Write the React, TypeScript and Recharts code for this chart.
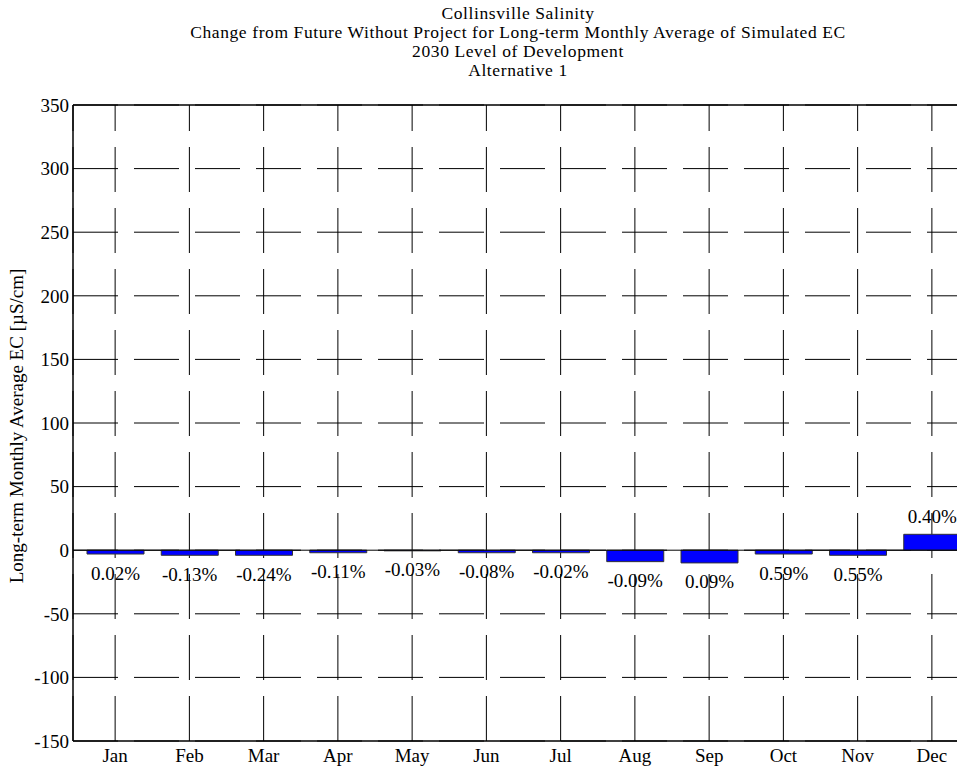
import { BarChart, Bar, XAxis, YAxis, CartesianGrid, ReferenceLine, LabelList } from "recharts";

const MONTHS = ["Jan", "Feb", "Mar", "Apr", "May", "Jun", "Jul", "Aug", "Sep", "Oct", "Nov", "Dec"];
const EC_CHANGE = [-3, -4, -4, -2, -0.5, -2, -2, -9, -10, -3, -4, 12.5];
const PCT_LABELS = ["0.02%", "-0.13%", "-0.24%", "-0.11%", "-0.03%", "-0.08%", "-0.02%", "-0.09%", "0.09%", "0.59%", "0.55%", "0.40%"];
const Y_TICKS = [-150, -100, -50, 0, 50, 100, 150, 200, 250, 300, 350];
const TITLE_LINES = [
  "Collinsville Salinity",
  "Change from Future Without Project for Long-term Monthly Average of Simulated EC",
  "2030 Level of Development",
  "Alternative 1",
];

const data = MONTHS.map((m, i) => ({ month: m, ec: EC_CHANGE[i], pct: PCT_LABELS[i] }));

const FONT = "'Liberation Serif', 'Times New Roman', serif";
const FS = 19;

function PctLabel(props: any) {
  const { x, y, width, height, value, index } = props;
  const top = Math.min(y, y + height);
  const bottom = Math.max(y, y + height);
  const neg = EC_CHANGE[index] < 0;
  const ty = neg ? bottom + 19 : top - 18;
  return (
    <text x={x + width / 2} y={ty} textAnchor="middle" dominantBaseline="central" fontFamily={FONT} fontSize={FS} fill="#000">
      {value}
    </text>
  );
}

export default function App() {
  return (
    <div style={{ position: "absolute", left: 0, top: 0, width: 957, height: 768, overflow: "hidden", background: "#fff", fontFamily: FONT }}>
      {TITLE_LINES.map((t, i) => (
        <div
          key={t}
          style={{
            position: "absolute",
            left: 18,
            width: 1000,
            top: 3.5 + i * 19,
            textAlign: "center",
            fontSize: 17.5,
            letterSpacing: 0.6,
            lineHeight: "18px",
            color: "#000",
            whiteSpace: "nowrap",
          }}
        >
          {t}
        </div>
      ))}
      <div
        style={{
          position: "absolute",
          left: 17,
          top: 426,
          transform: "translate(-50%, -50%) rotate(-90deg)",
          fontSize: FS,
          lineHeight: "20px",
          whiteSpace: "nowrap",
          color: "#000",
        }}
      >
        Long-term Monthly Average EC [µS/cm]
      </div>
      <div style={{ position: "absolute", left: 0, top: 0 }}>
        <BarChart width={990} height={768} data={data} margin={{ top: 105, right: 16, bottom: 2, left: 23 }} barSize={57}>
          <CartesianGrid horizontal={true} vertical={false} stroke="#000" strokeDasharray="45 16" />
          <CartesianGrid horizontal={false} vertical={true} stroke="#000" strokeDasharray="45 16" strokeDashoffset={19} />
          <XAxis
            dataKey="month"
            padding={{ left: 5, right: 5 }}
            tickLine={false}
            axisLine={{ stroke: "#000", strokeWidth: 1.5 }}
            tick={{ fontFamily: FONT, fontSize: FS, fill: "#000" }}
            height={25}
          />
          <YAxis
            domain={[-150, 350]}
            ticks={Y_TICKS}
            interval={0}
            width={50}
            tickLine={false}
            tickSize={2}
            tickMargin={2}
            axisLine={{ stroke: "#000", strokeWidth: 1.5 }}
            tick={{ fontFamily: FONT, fontSize: FS, fill: "#000" }}
          />
          <ReferenceLine y={350} stroke="#000" strokeWidth={1.5} />
          <Bar dataKey="ec" fill="#0000ff" stroke="#333" strokeWidth={1} isAnimationActive={false}>
            <LabelList dataKey="pct" content={PctLabel} />
          </Bar>
          <ReferenceLine y={0} stroke="#000" strokeWidth={1} />
        </BarChart>
      </div>
    </div>
  );
}
